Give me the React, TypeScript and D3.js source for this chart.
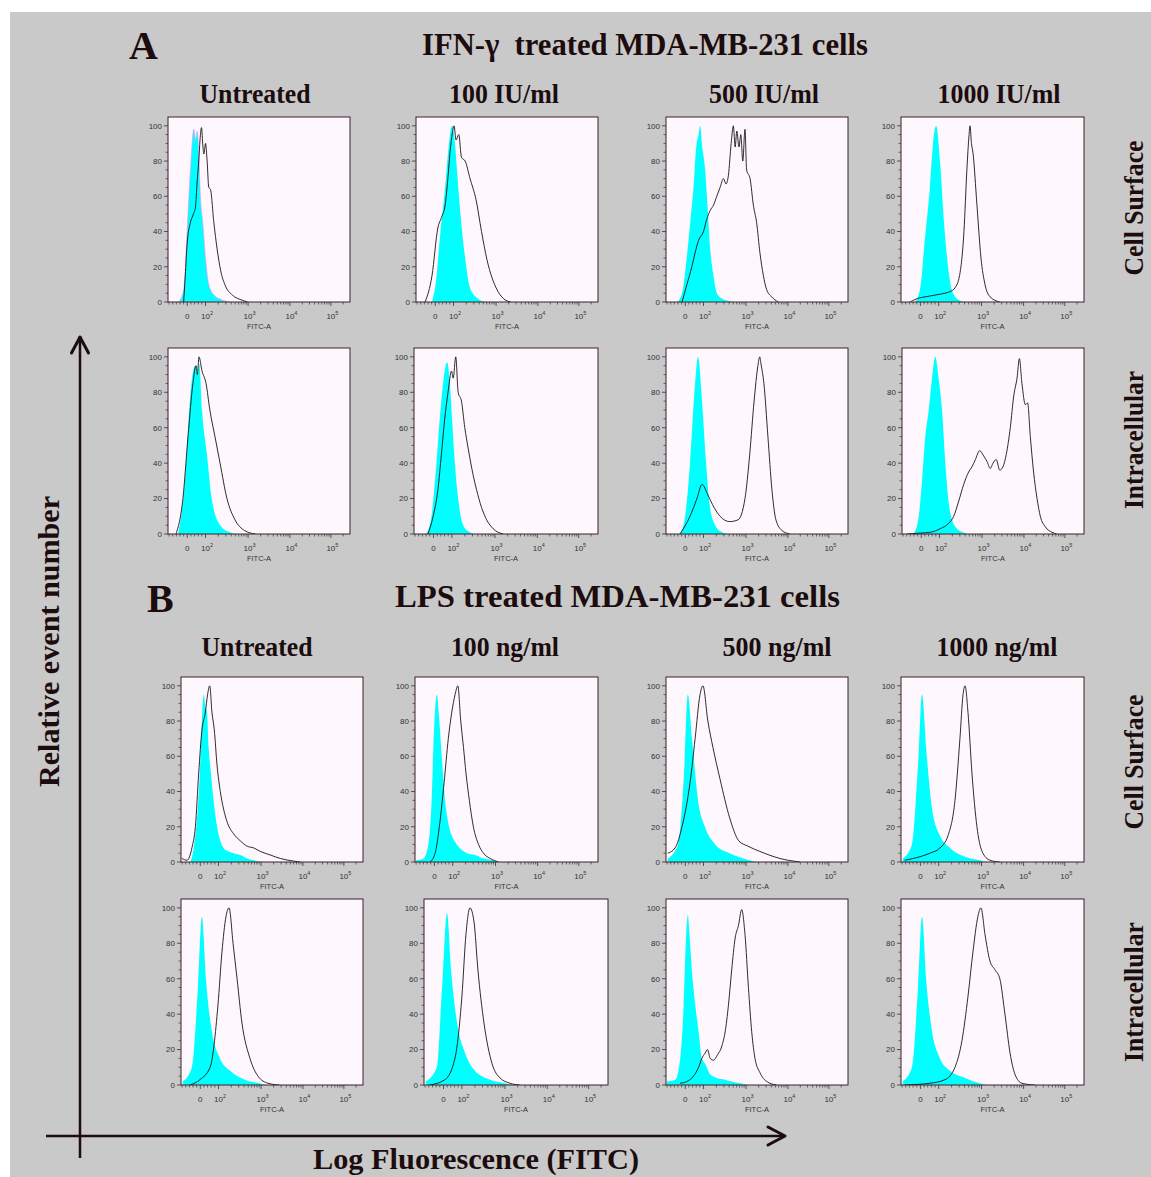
import React, { useEffect } from 'react';
import * as d3 from 'd3';

type Pt = [number, number];

// ---------------- text content ----------------
const sectionLetters = ['A', 'B'];
const sectionTitles = ['IFN-\u03b3  treated MDA-MB-231 cells', 'LPS treated MDA-MB-231 cells'];
const ifnDoses = ['Untreated', '100 IU/ml', '500 IU/ml', '1000 IU/ml'];
const lpsDoses = ['Untreated', '100 ng/ml', '500 ng/ml', '1000 ng/ml'];
const stainingLabels = ['Cell Surface', 'Intracellular'];
const yAxisTitle = 'Relative event number';
const xAxisTitle = 'Log Fluorescence (FITC)';
const xAxisName = 'FITC-A';

// ---------------- axis ticks ----------------
const yTickValues = [0, 20, 40, 60, 80, 100];
const yMinorStep = 5;
const xMajorValues = [0, 100, 1000, 10000, 100000];
const xMajorBase = ['0', '10', '10', '10', '10'];
const xMajorExp = ['', '2', '3', '4', '5'];
// decade index (0 = zero, 1 = 10^2, 2 = 10^3 ...) and where it sits on the 0-100 display-channel axis
const decadeMarks = [-1.06, 0, 1, 2, 3, 4, 4.47];
const decadeChannels = [0, 10.6, 20.6, 44, 67, 89.5, 100];

// ---------------- histogram data: [display channel (0-100), % of max] ----------------
// A: IFN-gamma, cell surface
const ifnSurf0Ctrl: Pt[] = [[5.9,0],[8.6,7],[10.5,40],[12.3,75],[14.2,98],[15.1,92],[16,97],[16.9,85],[17.8,60],[19.1,45],[20.6,25],[22.4,10],[25.2,4],[27.9,2],[31.6,0.5],[33.5,0]];
const ifnSurf0Stain: Pt[] = [[8.6,0],[9.5,15],[10.5,33],[12.3,45],[14,50],[15.1,54],[16,68],[16.9,80],[17.6,92],[18.4,99],[19.2,88],[19.7,84],[20.6,90],[21.5,80],[22.4,65],[23.3,64],[25.2,45],[27,30],[28.9,18],[31.6,9],[35.3,4],[40.8,1],[43.6,0]];
const ifnSurf1Ctrl: Pt[] = [[8.8,0],[11,12],[13,35],[16,65],[18.7,95],[19.8,100],[21.4,90],[22.5,75],[24,55],[27,25],[29.7,8],[34,2],[38,0]];
const ifnSurf1Stain: Pt[] = [[5,0],[8.8,15],[12,42],[14,48],[16,55],[17.5,70],[18.7,85],[20,96],[20.9,100],[22,92],[23.5,95],[25,82],[27,80],[29.7,70],[33,58],[36,40],[39,24],[44.5,7],[48,2],[52,0]];
const ifnSurf2Ctrl: Pt[] = [[6,0],[8.8,5],[11.5,26],[13.3,45],[15.1,65],[16.6,88],[17.9,95],[18.8,100],[19.7,90],[21.5,75],[22.8,55],[24.3,30],[26.1,15],[27.9,5],[30.7,2],[35,0.5],[37,0]];
const ifnSurf2Stain: Pt[] = [[8.8,0],[11.5,10],[14.2,20],[16,28],[17.9,35],[20.6,40],[22.4,47],[24.3,52],[26.1,55],[27.9,60],[29.7,65],[31.6,70],[33,67],[34.3,72],[35.8,90],[37,100],[38,88],[38.9,97],[40.1,88],[41.1,95],[42.2,80],[43.4,98],[44.3,75],[46.2,70],[48,55],[49.8,45],[51.6,28],[53.5,15],[55.3,7],[58,3],[61.7,0]];
const ifnSurf3Ctrl: Pt[] = [[7.7,0],[10.5,8],[13,35],[15.8,65],[18,95],[19.2,100],[21.3,80],[23.5,45],[25.7,20],[28.4,5],[32,1],[35,0]];
const ifnSurf3Stain: Pt[] = [[5,0],[9,2],[13.7,3],[19,4],[24,5],[27,6],[29.5,8],[32,15],[34.4,40],[36,75],[37.2,95],[37.7,100],[38.5,90],[39.3,85],[41.5,55],[43.7,25],[45.9,10],[48.6,3],[54,0]];
// A: IFN-gamma, intracellular
const ifnIntra0Ctrl: Pt[] = [[5.5,0],[9.3,30],[12,75],[14.8,95],[16.5,90],[17.2,96],[18.7,70],[21.4,45],[24,20],[28.6,5],[34,1],[37,0]];
const ifnIntra0Stain: Pt[] = [[4.4,0],[8.2,20],[11,55],[13.7,85],[15.4,95],[16.2,90],[17,100],[18.7,92],[20.9,85],[23,70],[25.8,55],[28.6,40],[32.4,20],[36.8,8],[42,2],[48,0]];
const ifnIntra1Ctrl: Pt[] = [[6.7,0],[9.5,10],[12.2,40],[14,65],[15.8,85],[18,97],[19.5,85],[20.4,70],[22.2,40],[24,20],[26.7,5],[30.4,1],[33,0]];
const ifnIntra1Stain: Pt[] = [[7.6,0],[10.4,10],[13,25],[14.9,45],[16.7,65],[18.5,80],[20.4,92],[21.3,88],[22.7,100],[24,80],[25.8,75],[27.6,60],[29.5,48],[32.2,33],[34,25],[36.7,15],[39.5,8],[43,3],[48.5,0]];
const ifnIntra2Ctrl: Pt[] = [[7.7,0],[10.5,10],[13.2,40],[16,85],[17.6,100],[19.8,75],[22,40],[24.2,15],[27,5],[30.8,1],[34,0]];
const ifnIntra2Stain: Pt[] = [[7.7,0],[13.2,10],[17,20],[19.8,28],[23,22],[26.4,15],[29.7,10],[35,7],[39.6,8],[43.4,20],[46,45],[48.4,75],[50.5,95],[51.5,100],[52.2,96],[53.8,85],[56,55],[58.2,25],[60.4,8],[63.7,2],[68,0]];
const ifnIntra3Ctrl: Pt[] = [[6.4,0],[9.2,10],[11,30],[12.8,55],[14.7,70],[16.5,88],[18.3,100],[20.1,88],[22,70],[23.8,40],[25.6,18],[27.5,8],[30.2,3],[34.8,0.5],[36,0]];
const ifnIntra3Stain: Pt[] = [[2.7,0],[10,0.5],[15.6,1],[21,3],[25.6,6],[28.4,10],[31,18],[33.9,28],[36.6,35],[38.5,38],[40.3,42],[42.7,47],[44.9,44],[46.7,41],[48.5,37],[50,40],[51.8,42],[53.7,36],[55.5,38],[57.3,45],[59.5,60],[61.4,78],[63.2,88],[64.5,99],[65.9,85],[67.8,73],[69,74],[70.5,55],[72.3,35],[74.2,20],[76,10],[78.8,4],[82.4,1],[85,0]];
// B: LPS, cell surface
const lpsSurf0Ctrl: Pt[] = [[5.1,0],[7,8],[8.8,25],[10.3,50],[11.5,80],[12.5,95],[13.4,88],[14.3,85],[15.2,65],[16.5,50],[17.9,35],[19.8,20],[21.6,12],[23.4,8],[26.2,6],[28.9,5],[32.6,4],[36.3,2],[39.9,1],[44.5,0]];
const lpsSurf0Stain: Pt[] = [[0.5,2],[3.3,1],[6,8],[7.9,20],[9.7,50],[11.5,75],[13.4,85],[14.6,95],[15.8,100],[17,85],[18.3,75],[19.8,55],[21.6,40],[23.4,30],[25.6,22],[28.9,16],[32.6,12],[36.3,9],[39.9,8],[43.6,6],[49,4],[54.6,2],[61.9,0.5],[65.5,0]];
const lpsSurf1Ctrl: Pt[] = [[0.5,1],[4.6,2],[7.3,10],[9.1,35],[10.4,75],[11.9,95],[13.3,80],[14.6,60],[16.4,35],[18.2,22],[20.1,15],[22.8,10],[25.5,7],[28.3,5],[32.8,4],[37.4,2],[42.9,1],[45.6,0]];
const lpsSurf1Stain: Pt[] = [[8.2,0],[11,5],[13.3,20],[15.9,45],[18.2,70],[20.1,85],[21.9,95],[23.4,100],[25,80],[26.5,65],[27.9,50],[29.7,35],[31.9,20],[34.7,10],[37.4,5],[41.1,2],[45.6,0]];
const lpsSurf2Ctrl: Pt[] = [[1,2],[6.6,10],[9.9,50],[12,95],[14.3,70],[17.6,35],[21.4,20],[27,10],[35,5],[46,1],[50,0]];
const lpsSurf2Stain: Pt[] = [[1,5],[5,8],[8.8,20],[13.2,45],[16,70],[18.7,95],[20.3,100],[23,80],[25.8,65],[29.7,47],[35,25],[40,12],[45,9],[51.6,6],[62.6,2],[73.6,0]];
const lpsSurf3Ctrl: Pt[] = [[1,2],[6,10],[9.3,55],[11.5,95],[13.7,65],[17,30],[21.3,15],[26.8,8],[35,3],[43,1],[47,0]];
const lpsSurf3Stain: Pt[] = [[2,1],[10.4,3],[15.8,5],[21.3,8],[25.7,15],[29.5,35],[32.2,70],[33.9,95],[35,100],[36.6,85],[38.8,50],[41.5,20],[44.3,6],[48.6,1],[54,0]];
// B: LPS, intracellular
const lpsIntra0Ctrl: Pt[] = [[1,2],[6,10],[9.3,55],[11.5,95],[13.7,60],[17,30],[21.4,15],[27,8],[35,3],[43,1],[47,0]];
const lpsIntra0Stain: Pt[] = [[5,0],[10.4,3],[16,10],[20.3,45],[22.5,75],[24.7,95],[26.4,100],[28.6,80],[30.8,60],[33.5,35],[37.9,15],[42.3,5],[47.8,1],[54,0]];
const lpsIntra1Ctrl: Pt[] = [[1,2],[7,10],[9.8,55],[12.5,97],[14.7,65],[18,35],[22.3,18],[27.7,8],[35.9,3],[44,1],[48,0]];
const lpsIntra1Stain: Pt[] = [[3,0],[11.4,3],[16.8,15],[20.6,50],[22.8,85],[25,100],[27.2,92],[29.3,65],[32.6,35],[37,12],[41.3,4],[46.7,1],[52,0]];
const lpsIntra2Ctrl: Pt[] = [[0.5,2],[5.1,3],[7.8,15],[9.7,45],[11.1,85],[12,96],[12.9,85],[14.2,65],[16.1,45],[17.9,30],[19.7,15],[21.5,12],[24.3,6],[27.9,4],[32.5,3],[36.1,2],[40.7,1],[45.3,0]];
const lpsIntra2Stain: Pt[] = [[7.8,1],[11.5,2],[15.1,5],[17.9,10],[19.7,15],[21.5,18],[22.8,20],[24.3,15],[26.1,14],[28.3,17],[30.7,22],[32.5,30],[34.3,45],[36.1,65],[38,83],[39.8,90],[41.6,99],[43.4,85],[45.3,55],[47.1,30],[48.9,15],[51.6,7],[55.3,2],[60.8,0]];
const lpsIntra3Ctrl: Pt[] = [[1,2],[6,10],[9.3,55],[11.5,95],[13.7,60],[17,30],[21.3,15],[26.8,8],[35,4],[43,1],[47,0]];
const lpsIntra3Stain: Pt[] = [[2,0],[15.8,1],[24,3],[29.5,10],[33.3,25],[36.6,50],[39.3,75],[42,95],[43.7,100],[45.9,85],[48.6,70],[51.4,65],[54,60],[56.8,40],[59.6,18],[62.3,6],[66,1],[73,0]];

// ---------------- layout ----------------
const W = 1151;
const H = 1177;
const INK = '#1c0c0e';
const rowTop = [117, 348, 677, 899];
const rowBase = [302, 534, 862, 1085];
const colSpan: [number, number][][] = [
  [[168, 350], [416, 598], [666, 848], [901, 1084]],
  [[168, 350], [414, 598], [666, 848], [902, 1084]],
  [[181, 363], [415, 598], [666, 848], [901, 1084]],
  [[181, 363], [424, 608], [666, 848], [901, 1084]],
];
const ctrlRows: Pt[][][] = [
  [ifnSurf0Ctrl, ifnSurf1Ctrl, ifnSurf2Ctrl, ifnSurf3Ctrl],
  [ifnIntra0Ctrl, ifnIntra1Ctrl, ifnIntra2Ctrl, ifnIntra3Ctrl],
  [lpsSurf0Ctrl, lpsSurf1Ctrl, lpsSurf2Ctrl, lpsSurf3Ctrl],
  [lpsIntra0Ctrl, lpsIntra1Ctrl, lpsIntra2Ctrl, lpsIntra3Ctrl],
];
const stainRows: Pt[][][] = [
  [ifnSurf0Stain, ifnSurf1Stain, ifnSurf2Stain, ifnSurf3Stain],
  [ifnIntra0Stain, ifnIntra1Stain, ifnIntra2Stain, ifnIntra3Stain],
  [lpsSurf0Stain, lpsSurf1Stain, lpsSurf2Stain, lpsSurf3Stain],
  [lpsIntra0Stain, lpsIntra1Stain, lpsIntra2Stain, lpsIntra3Stain],
];

const decadeScale = d3.scaleLinear().domain(decadeMarks).range(decadeChannels);
const toDecade = (v: number) => (Math.abs(v) <= 100 ? v / 100 : Math.sign(v) * (1 + Math.log10(Math.abs(v) / 100)));
const xMinorValues: number[] = (() => {
  const out: number[] = [];
  for (let v = -100; v <= 100; v += 20) if (v !== 0 && v !== 100) out.push(v);
  [100, 1000, 10000, 100000].forEach((d) => {
    for (let k = 2; k <= 9; k++) if (toDecade(k * d) <= 4.47) out.push(k * d);
  });
  return out;
})();

const serif = "'Liberation Serif', 'Times New Roman', Times, serif";
const sans = "'Liberation Sans', Arial, Helvetica, sans-serif";

function Panel({ id, x0, x1, top, base, ctrl, stain, magenta }: { id: string; x0: number; x1: number; top: number; base: number; ctrl: Pt[]; stain: Pt[]; magenta: boolean }) {
  const x = d3.scaleLinear().domain([0, 100]).range([x0, x1]);
  const y = d3.scaleLinear().domain([0, 105]).range([base, top]);
  const area = d3.area<Pt>().x((d) => x(d[0])).y0(y(0)).y1((d) => y(d[1])).curve(d3.curveMonotoneX);
  const line = d3.line<Pt>().x((d) => x(d[0])).y((d) => y(d[1])).curve(d3.curveMonotoneX);
  const minorY = d3.range(0, 101, yMinorStep).filter((v) => v % 20 !== 0);
  const cx = (v: number) => x(decadeScale(toDecade(v)));
  return (
    <g>
      <defs>
        <clipPath id={id}>
          <rect x={x0} y={top} width={x1 - x0} height={base - top} />
        </clipPath>
      </defs>
      <rect x={x0} y={top} width={x1 - x0} height={base - top} fill="#fef7fd" />
      <g clipPath={`url(#${id})`}>
        <path d={area(ctrl) || ''} fill="#00ffff" stroke={magenta ? '#ff8cf5' : 'none'} strokeWidth={magenta ? 0.6 : 0} />
        <path d={line(stain) || ''} fill="none" stroke="#1a1416" strokeWidth={0.9} />
      </g>
      <rect x={x0} y={top} width={x1 - x0} height={base - top} fill="none" stroke="#3e2029" strokeWidth={1} />
      {yTickValues.map((v) => (
        <g key={`y${v}`}>
          <line x1={x0 - 4} x2={x0} y1={y(v)} y2={y(v)} stroke="#333" strokeWidth={0.8} />
          <text x={x0 - 6} y={y(v)} dy="0.35em" textAnchor="end" fontFamily={sans} fontSize={8} fill="#333">{v}</text>
        </g>
      ))}
      {minorY.map((v) => (
        <line key={`ym${v}`} x1={x0 - 2.5} x2={x0} y1={y(v)} y2={y(v)} stroke="#333" strokeWidth={0.7} />
      ))}
      {xMinorValues.map((v) => (
        <line key={`xm${v}`} x1={cx(v)} x2={cx(v)} y1={base} y2={base + 2.5} stroke="#333" strokeWidth={0.7} />
      ))}
      {xMajorValues.map((v, i) => (
        <g key={`x${v}`}>
          <line x1={cx(v)} x2={cx(v)} y1={base} y2={base + 4} stroke="#333" strokeWidth={0.8} />
          <text x={cx(v) + (xMajorExp[i] ? 1.5 : 0)} y={base + 17} textAnchor="middle" fontFamily={sans} fontSize={8} fill="#333">
            {xMajorBase[i]}
            {xMajorExp[i] ? <tspan dy={-4} fontSize={5.5}>{xMajorExp[i]}</tspan> : null}
          </text>
        </g>
      ))}
      <text x={(x0 + x1) / 2} y={base + 27} textAnchor="middle" fontFamily={sans} fontSize={7.5} fill="#333">{xAxisName}</text>
    </g>
  );
}

export default function App() {
  useEffect(() => {
    document.body.style.margin = '0';
    document.body.style.overflow = 'hidden';
  }, []);
  const headerCentersA = [255, 504, 764, 999];
  const headerCentersB = [257, 505, 777, 997];
  const headerLens = [[111, 110, 110, 123], [111, 108, 109, 121]];
  const stainCenters = [208, 440, 762, 992];
  const stainLens = [135, 138, 135, 140];
  return (
    <svg width={W} height={H} style={{ position: 'absolute', left: 0, top: 0 }} xmlns="http://www.w3.org/2000/svg">
      <rect x={0} y={0} width={W} height={H} fill="#ffffff" />
      <rect x={10} y={12} width={W - 10} height={H - 12} fill="#c9c9c9" />

      {/* section letters and titles */}
      <text x={129} y={59} fontFamily={serif} fontWeight="bold" fontSize={40} fill={INK}>{sectionLetters[0]}</text>
      <text x={422} y={55} fontFamily={serif} fontWeight="bold" fontSize={31} fill={INK} textLength={446} lengthAdjust="spacingAndGlyphs" style={{ whiteSpace: 'pre' }}>{sectionTitles[0]}</text>
      <text x={147} y={612} fontFamily={serif} fontWeight="bold" fontSize={40} fill={INK}>{sectionLetters[1]}</text>
      <text x={395} y={607} fontFamily={serif} fontWeight="bold" fontSize={31} fill={INK} textLength={445} lengthAdjust="spacingAndGlyphs">{sectionTitles[1]}</text>

      {ifnDoses.map((t, i) => (
        <text key={`ha${i}`} x={headerCentersA[i] - headerLens[0][i] / 2} y={103} fontFamily={serif} fontWeight="bold" fontSize={27} fill={INK} textLength={headerLens[0][i]} lengthAdjust="spacingAndGlyphs">{t}</text>
      ))}
      {lpsDoses.map((t, i) => (
        <text key={`hb${i}`} x={headerCentersB[i] - headerLens[1][i] / 2} y={656} fontFamily={serif} fontWeight="bold" fontSize={27} fill={INK} textLength={headerLens[1][i]} lengthAdjust="spacingAndGlyphs">{t}</text>
      ))}

      {stainCenters.map((c, i) => (
        <text key={`s${i}`} transform={`translate(1143,${c}) rotate(-90)`} x={-stainLens[i] / 2} y={0} fontFamily={serif} fontWeight="bold" fontSize={27} fill={INK} textLength={stainLens[i]} lengthAdjust="spacingAndGlyphs">{stainingLabels[i % 2]}</text>
      ))}

      {/* panels */}
      {rowTop.map((top, r) =>
        colSpan[r].map(([x0, x1], c) => (
          <Panel key={`p${r}${c}`} id={`clip${r}${c}`} x0={x0} x1={x1} top={top} base={rowBase[r]} ctrl={ctrlRows[r][c]} stain={stainRows[r][c]} magenta={r === 0 && c === 0} />
        ))
      )}

      {/* big axes */}
      <line x1={80} x2={80} y1={336} y2={1158} stroke={INK} strokeWidth={2.5} />
      <polyline points="71.5,353 80,337 88.5,353" fill="none" stroke={INK} strokeWidth={3} strokeLinecap="round" strokeLinejoin="round" />
      <line x1={46} x2={784} y1={1136} y2={1136} stroke={INK} strokeWidth={2.5} />
      <polyline points="768,1127 785,1136 768,1145" fill="none" stroke={INK} strokeWidth={3} strokeLinecap="round" strokeLinejoin="round" />
      <text transform="translate(59,642) rotate(-90)" x={-145} y={0} fontFamily={serif} fontWeight="bold" fontSize={30} fill={INK} textLength={291} lengthAdjust="spacingAndGlyphs">{yAxisTitle}</text>
      <text x={313} y={1169} fontFamily={serif} fontWeight="bold" fontSize={30} fill={INK} textLength={326} lengthAdjust="spacingAndGlyphs">{xAxisTitle}</text>
    </svg>
  );
}
